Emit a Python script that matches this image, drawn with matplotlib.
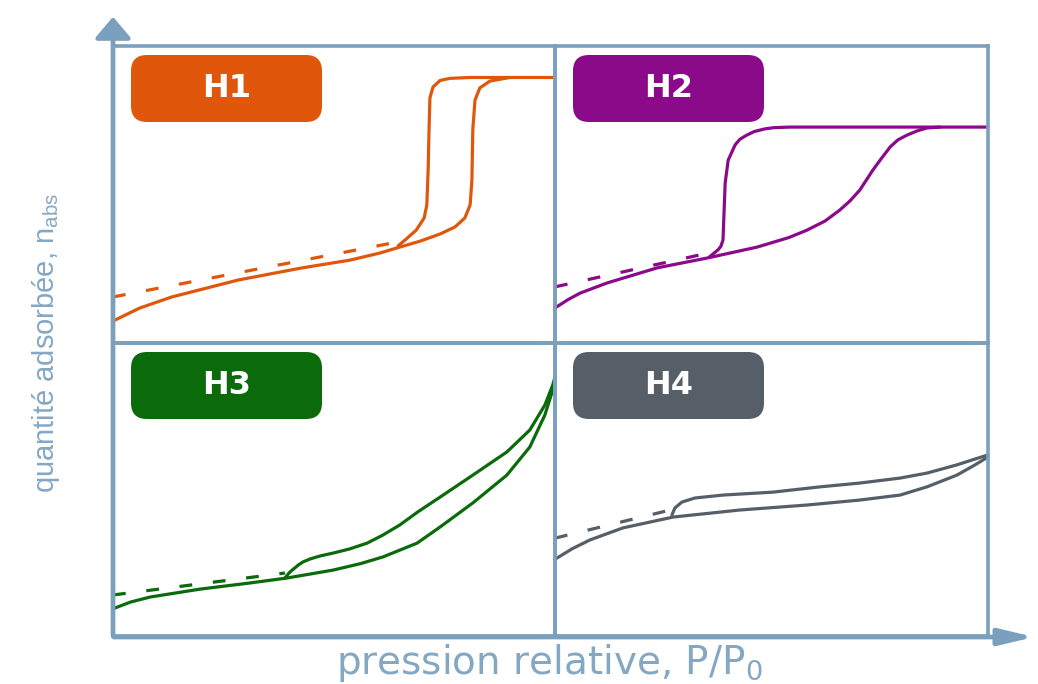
import matplotlib
matplotlib.use("Agg")
import matplotlib.pyplot as plt
from matplotlib.patches import FancyBboxPatch, FancyArrowPatch

# hysteresis loops, P/P0 on x and adsorbed amount (panel units) on y
h1_ads_x = [0.000, 0.061, 0.133, 0.283, 0.428, 0.536, 0.604, 0.649, 0.695, 0.740, 0.774, 0.796, 0.808, 0.812, 0.814, 0.819, 0.830, 0.853, 0.898, 1.000]
h1_ads_y = [0.074, 0.118, 0.155, 0.212, 0.253, 0.279, 0.303, 0.323, 0.343, 0.367, 0.391, 0.421, 0.465, 0.549, 0.717, 0.818, 0.859, 0.882, 0.894, 0.894]
h1_des_x = [0.898, 0.808, 0.762, 0.740, 0.724, 0.717, 0.715, 0.713, 0.710, 0.704, 0.686, 0.661, 0.645]
h1_des_y = [0.894, 0.894, 0.891, 0.884, 0.862, 0.825, 0.717, 0.582, 0.465, 0.421, 0.380, 0.347, 0.327]
h1_dash_x = [0.000, 0.633]
h1_dash_y = [0.155, 0.337]

h2_ads_x = [0.000, 0.030, 0.058, 0.120, 0.236, 0.351, 0.467, 0.540, 0.582, 0.624, 0.658, 0.681, 0.704, 0.734, 0.751, 0.774, 0.792, 0.813, 0.836, 0.859, 0.889, 1.000]
h2_ads_y = [0.118, 0.146, 0.168, 0.202, 0.253, 0.286, 0.323, 0.355, 0.380, 0.411, 0.448, 0.478, 0.515, 0.582, 0.616, 0.660, 0.684, 0.700, 0.714, 0.724, 0.727, 0.727]
h2_des_x = [0.889, 0.543, 0.505, 0.485, 0.460, 0.443, 0.427, 0.416, 0.400, 0.393, 0.390, 0.388, 0.383, 0.376, 0.356]
h2_des_y = [0.727, 0.727, 0.725, 0.721, 0.712, 0.700, 0.686, 0.667, 0.616, 0.539, 0.424, 0.347, 0.325, 0.313, 0.289]
h2_dash_x = [0.000, 0.345]
h2_dash_y = [0.189, 0.300]

h3_ads_x = [0.000, 0.040, 0.084, 0.197, 0.310, 0.394, 0.498, 0.560, 0.611, 0.688, 0.740, 0.814, 0.891, 0.943, 0.977, 0.995, 1.000]
h3_ads_y = [0.093, 0.116, 0.133, 0.160, 0.181, 0.198, 0.225, 0.247, 0.270, 0.317, 0.372, 0.454, 0.549, 0.645, 0.754, 0.840, 0.874]
h3_des_x = [1.000, 0.995, 0.977, 0.943, 0.891, 0.814, 0.740, 0.690, 0.649, 0.610, 0.575, 0.535, 0.498, 0.468, 0.446, 0.430, 0.419, 0.400, 0.389]
h3_des_y = [0.884, 0.857, 0.788, 0.703, 0.628, 0.549, 0.474, 0.424, 0.379, 0.344, 0.317, 0.297, 0.283, 0.273, 0.263, 0.253, 0.242, 0.218, 0.198]
h3_dash_x = [0.000, 0.389]
h3_dash_y = [0.140, 0.215]

h4_ads_x = [0.000, 0.040, 0.081, 0.157, 0.273, 0.427, 0.582, 0.704, 0.797, 0.859, 0.928, 0.970, 1.000]
h4_ads_y = [0.262, 0.298, 0.328, 0.369, 0.406, 0.430, 0.447, 0.464, 0.481, 0.509, 0.549, 0.584, 0.611]
h4_des_x = [1.000, 0.970, 0.928, 0.859, 0.797, 0.704, 0.612, 0.503, 0.388, 0.323, 0.293, 0.277, 0.270]
h4_des_y = [0.618, 0.604, 0.584, 0.556, 0.539, 0.522, 0.509, 0.491, 0.481, 0.471, 0.457, 0.437, 0.413]
h4_dash_x = [0.000, 0.266]
h4_dash_y = [0.334, 0.430]

names = ["H1", "H2", "H3", "H4"]
colors = ["#E0570C", "#8A0A8A", "#0B6B0B", "#565F68"]
frame = "#7BA0BD"
label_col = "#84A8C4"

W, H = 1038, 684
fig = plt.figure(figsize=(W / 100, H / 100), dpi=100)

# panel boxes in pixels: left, top, right, bottom
boxes = [(113, 46, 555, 343), (555, 46, 988, 343),
         (113, 343, 555, 636), (555, 343, 988, 636)]
curves = [
    (h1_ads_x, h1_ads_y, h1_des_x, h1_des_y, h1_dash_x, h1_dash_y),
    (h2_ads_x, h2_ads_y, h2_des_x, h2_des_y, h2_dash_x, h2_dash_y),
    (h3_ads_x, h3_ads_y, h3_des_x, h3_des_y, h3_dash_x, h3_dash_y),
    (h4_ads_x, h4_ads_y, h4_des_x, h4_des_y, h4_dash_x, h4_dash_y),
]

for (l, t, r, b), name, col, cv in zip(boxes, names, colors, curves):
    ax = fig.add_axes([l / W, (H - b) / H, (r - l) / W, (b - t) / H])
    ax.set_xlim(0, 1)
    ax.set_ylim(0, 1)
    ax.set_xticks([])
    ax.set_yticks([])
    for s in ax.spines.values():
        s.set_color(frame)
        s.set_linewidth(2.6)
    ax.patch.set_alpha(0)
    ax_x, ax_y, de_x, de_y, da_x, da_y = cv
    ax.plot(ax_x, ax_y, color=col, lw=2.3, solid_joinstyle="round", solid_capstyle="round", clip_on=False)
    ax.plot(de_x, de_y, color=col, lw=2.3, solid_joinstyle="round", solid_capstyle="round", clip_on=False)
    ax.plot(da_x, da_y, color=col, lw=2.3, ls=(0, (4, 6.5)))

    # rounded name tag
    pw, ph = r - l, b - t
    bx, bw, bh = 18 / pw, 191 / pw, 67 / ph
    by = 1 - 9 / ph - bh
    tag = FancyBboxPatch((bx, by), bw, bh, boxstyle="round,pad=0,rounding_size=%f" % (16 / pw),
                         mutation_aspect=pw / ph, transform=ax.transAxes,
                         facecolor=col, edgecolor="none", zorder=3)
    ax.add_patch(tag)
    ax.text(bx + bw / 2, by + bh / 2, name, transform=ax.transAxes, ha="center", va="center",
            color="white", fontsize=23, fontweight="bold", zorder=4)

# axes with arrows
fig.add_artist(FancyArrowPatch((113 / W, (H - 638) / H), (113 / W, (H - 14) / H),
                               transform=fig.transFigure, color=frame, lw=3.4,
                               arrowstyle="-|>,head_length=0.65,head_width=0.55", mutation_scale=20))
fig.add_artist(FancyArrowPatch((111 / W, (H - 637) / H), (1037 / W, (H - 637) / H),
                               transform=fig.transFigure, color=frame, lw=3.4,
                               arrowstyle="-|>,head_length=1.05,head_width=0.25", mutation_scale=20))

fig.text(549 / W, (H - 663) / H, "pression relative, P/P$_{\\mathregular{0}}$", ha="center", va="center",
         color=label_col, fontsize=28)
fig.text(46 / W, (H - 343) / H, "quantité adsorbée, n$_{\\mathregular{abs}}$", ha="center", va="center",
         rotation=90, color=label_col, fontsize=21, family=["Liberation Sans", "DejaVu Sans"])

fig.savefig("out.png", dpi=100)
